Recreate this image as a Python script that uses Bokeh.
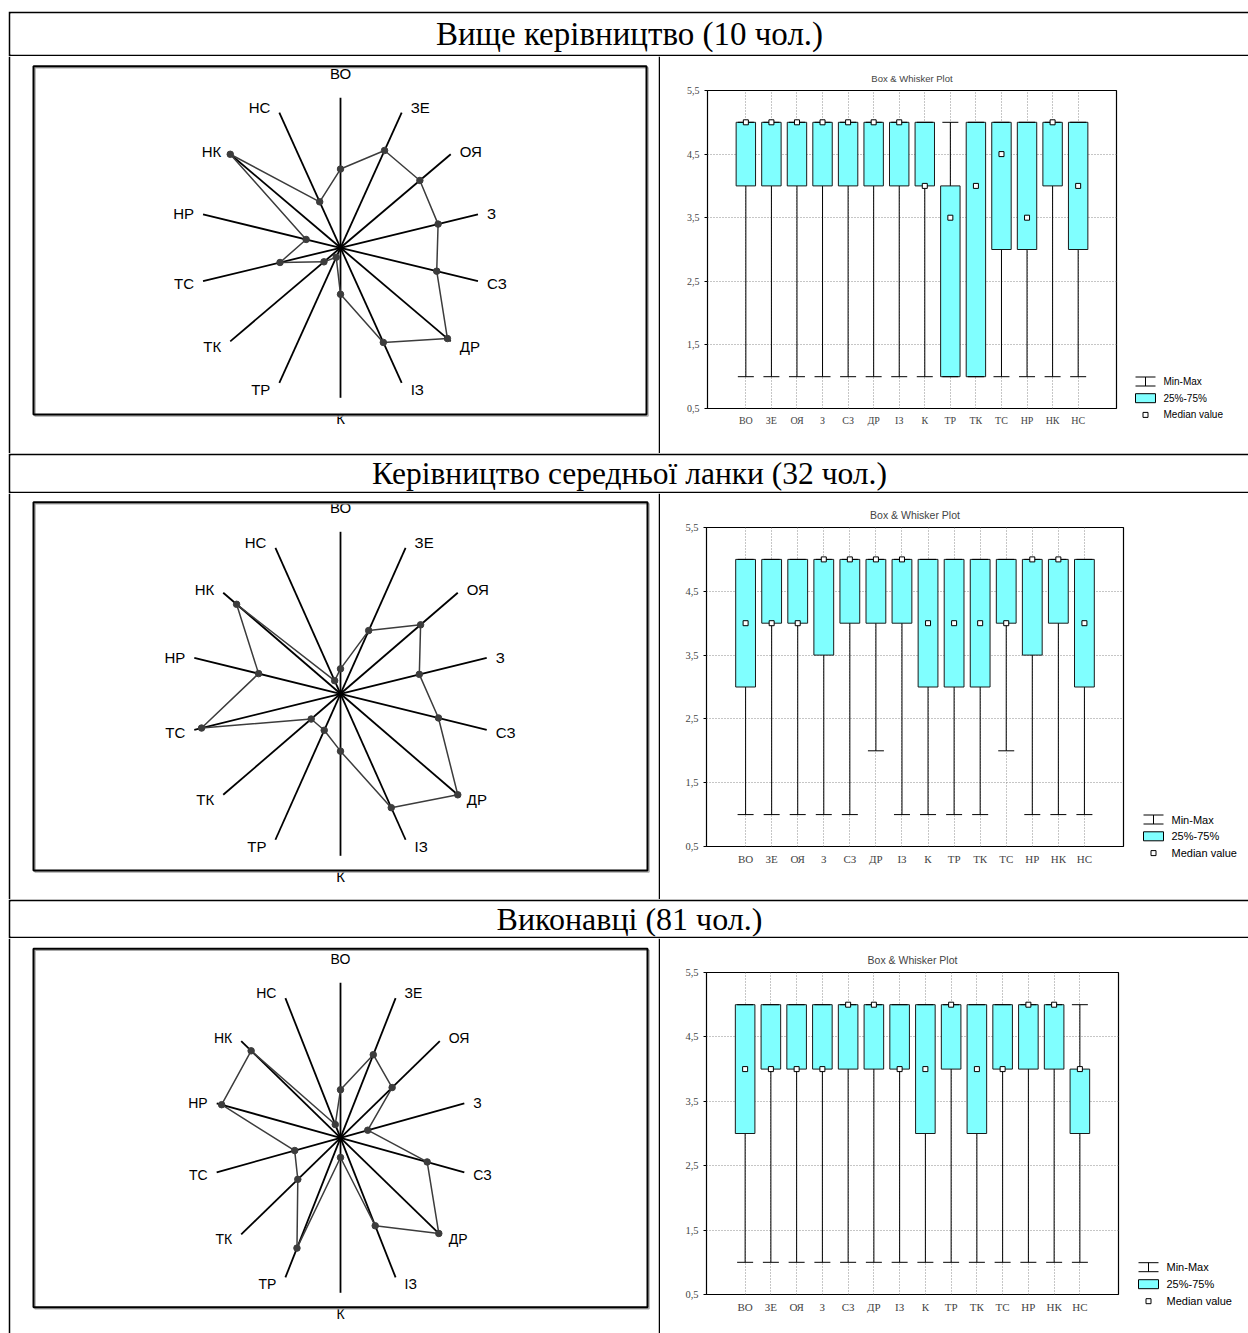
import math
from bokeh.plotting import figure
from bokeh.layouts import column, row
from bokeh.models import (Range1d, FactorRange, FixedTicker, Spacer,
                          CustomJSTickFormatter, ColumnDataSource, Label)
from bokeh.core.properties import value
from bokeh.embed import file_html
from bokeh.resources import INLINE

# ---------------- data ----------------
categories = ["ВО", "ЗЕ", "ОЯ", "З", "СЗ", "ДР", "ІЗ", "К", "ТР", "ТК", "ТС", "НР", "НК", "НС"]
group_titles = ["Вище керівництво (10 чол.)",
                "Керівництво середньої ланки (32 чол.)",
                "Виконавці (81 чол.)"]
box_title = "Box & Whisker Plot"
legend_labels = ["Min-Max", "25%-75%", "Median value"]
y_ticks = [0.5, 1.5, 2.5, 3.5, 4.5, 5.5]

# radar profiles (share of axis length)
radar_top = [0.525, 0.72, 0.72, 0.71, 0.70, 0.97, 0.70, 0.31, 0.07, 0.15, 0.44, 0.25, 1.00, 0.34]
radar_middle = [0.154, 0.433, 0.683, 0.539, 0.67, 1.00, 0.78, 0.354, 0.25, 0.25, 0.95, 0.56, 0.886, 0.09]
radar_staff = [0.31, 0.595, 0.52, 0.22, 0.70, 0.99, 0.63, 0.127, 0.79, 0.43, 0.37, 0.96, 0.90, 0.095]

# box plots: min, q1, median, q3, max
top_min = [1, 1, 1, 1, 1, 1, 1, 1, 1, 1, 1, 1, 1, 1]
top_q1 = [4, 4, 4, 4, 4, 4, 4, 4, 1, 1, 3, 3, 4, 3]
top_med = [5, 5, 5, 5, 5, 5, 5, 4, 3.5, 4, 4.5, 3.5, 5, 4]
top_q3 = [5, 5, 5, 5, 5, 5, 5, 5, 4, 5, 5, 5, 5, 5]
top_max = [5, 5, 5, 5, 5, 5, 5, 5, 5, 5, 5, 5, 5, 5]

mid_min = [1, 1, 1, 1, 1, 2, 1, 1, 1, 1, 2, 1, 1, 1]
mid_q1 = [3, 4, 4, 3.5, 4, 4, 4, 3, 3, 3, 4, 3.5, 4, 3]
mid_med = [4, 4, 4, 5, 5, 5, 5, 4, 4, 4, 4, 5, 5, 4]
mid_q3 = [5, 5, 5, 5, 5, 5, 5, 5, 5, 5, 5, 5, 5, 5]
mid_max = [5, 5, 5, 5, 5, 5, 5, 5, 5, 5, 5, 5, 5, 5]

staff_min = [1, 1, 1, 1, 1, 1, 1, 1, 1, 1, 1, 1, 1, 1]
staff_q1 = [3, 4, 4, 4, 4, 4, 4, 3, 4, 3, 4, 4, 4, 3]
staff_med = [4, 4, 4, 4, 5, 5, 4, 4, 5, 4, 4, 5, 5, 4]
staff_q3 = [5, 5, 5, 5, 5, 5, 5, 5, 5, 5, 5, 5, 5, 4]
staff_max = [5, 5, 5, 5, 5, 5, 5, 5, 5, 5, 5, 5, 5, 5]

# ---------------- layout / style ----------------
SANS = "Liberation Sans"
SERIF = "Liberation Serif"
LEFT_PAD = 8
TOP_PAD = 11
TOTAL_W = 1240
RADAR_W = 648
CX = 330
BOX_FILL = "#80FFFF"
POLY = "#3c3c3c"

panels = [
    dict(title_h=41, title_fs="33px", radar_vals=radar_top, stats=(top_min, top_q1, top_med, top_q3, top_max),
         H=397, cy=191.3, rx=141, ry=150, rect=(23, 636, 9.7, 358), rfs="15px",
         bw=464, mbl=47, mbt=34, mbb=45, tfs="9.5px", xfs="10px", yfs="10px", lfs="10px",
         ly=325, ldy=16.7, lx=11),
    dict(title_h=36, title_fs="31.5px", radar_vals=radar_middle, stats=(mid_min, mid_q1, mid_med, mid_q3, mid_max),
         H=406, cy=200.3, rx=150, ry=162, rect=(23, 637, 8.7, 377), rfs="15px",
         bw=471, mbl=46, mbt=34, mbb=53, tfs="10.5px", xfs="11px", yfs="10.5px", lfs="11px",
         ly=326, ldy=16.8, lx=12),
    dict(title_h=35, title_fs="32px", radar_vals=radar_staff, stats=(staff_min, staff_q1, staff_med, staff_q3, staff_max),
         H=395, cy=199.3, rx=127, ry=155, rect=(23, 637, 10.3, 368.7), rfs="14px",
         bw=466, mbl=46, mbt=34, mbb=39, tfs="10.5px", xfs="11px", yfs="10.5px", lfs="11px",
         ly=328.7, ldy=17.0, lx=12),
]


def base_fig(**kw):
    p = figure(toolbar_location=None, output_backend="svg", **kw)
    p.frame_align = False
    return p


def title_panel(text, h, fs):
    p = base_fig(width=TOTAL_W, height=h + 4, x_range=Range1d(0, TOTAL_W - 2), y_range=Range1d(0, h),
                 min_border_left=2, min_border_right=0, min_border_top=2, min_border_bottom=2,
                 border_fill_color="black", background_fill_color="white",
                 x_axis_type=None, y_axis_type=None, title=None, outline_line_color=None)
    p.add_layout(Label(x=619, y=h / 2, text=text, text_align="center", text_baseline="middle",
                       text_font=SERIF, text_font_size=fs, text_color="black"))
    return p


def radar_panel(cfg):
    H, cy, rx, ry = cfg["H"], cfg["cy"], cfg["rx"], cfg["ry"]
    vals = cfg["radar_vals"]
    p = base_fig(width=RADAR_W + 4, height=H,
                 x_range=Range1d(-CX / rx, (RADAR_W - CX) / rx),
                 y_range=Range1d(-(H - cy) / ry, cy / ry),
                 min_border_left=2, min_border_right=2, min_border_top=0, min_border_bottom=0,
                 border_fill_color="black", background_fill_color="white",
                 x_axis_type=None, y_axis_type=None, title=None, outline_line_color=None)
    n = len(categories)
    ang = [math.pi / 2 - 2 * math.pi * i / n for i in range(n)]
    cs = [math.cos(a) for a in ang]
    sn = [math.sin(a) for a in ang]
    # spokes
    p.segment(x0=[0] * n, y0=[0] * n, x1=cs, y1=sn, line_color="black", line_width=1.8)
    # profile
    xs = [v * c for v, c in zip(vals, cs)]
    ys = [v * s for v, s in zip(vals, sn)]
    p.patch(xs, ys, fill_color=None, line_color=POLY, line_width=1.5)
    p.scatter(xs, ys, marker="circle", size=6.5, fill_color=POLY, line_color=POLY)
    # spoke labels
    groups = {"left": ([], [], [], [], []), "right": ([], [], [], [], []), "center": ([], [], [], [], [])}
    for lab, c, s in zip(categories, cs, sn):
        if c > 0.05:
            key, xo = "left", 9
        elif c < -0.05:
            key, xo = "right", -9
        else:
            key, xo = "center", 0
        if abs(c) <= 0.05:
            yo = -24 if s > 0 else 21
        else:
            yo = -6.5 * s + 0.8
        g = groups[key]
        g[0].append(c); g[1].append(s); g[2].append(lab); g[3].append(xo); g[4].append(yo)
    for key, g in groups.items():
        if not g[0]:
            continue
        src = ColumnDataSource(dict(x=g[0], y=g[1], t=g[2], xo=g[3], yo=g[4]))
        p.text(x="x", y="y", text="t", x_offset="xo", y_offset="yo", source=src,
               text_align=key, text_baseline="middle", text_font=value(SANS),
               text_font_size=cfg["rfs"], text_color="black")
    # inner frame with a light shadow
    l, r, t, b = cfg["rect"]
    sh = 1.5
    p.quad(left=[(l + sh - CX) / rx], right=[(r + sh - CX) / rx], top=[(cy - t - sh) / ry],
           bottom=[(cy - b - sh) / ry], fill_color=None, line_color="#a8a8a8", line_width=1.5)
    p.quad(left=[(l - CX) / rx], right=[(r - CX) / rx], top=[(cy - t) / ry], bottom=[(cy - b) / ry],
           fill_color=None, line_color="black", line_width=2)
    return p


def box_panel(cfg):
    mn, q1, med, q3, mx = cfg["stats"]
    H = cfg["H"]
    p = base_fig(width=cfg["bw"], height=H,
                 x_range=FactorRange(factors=categories, range_padding=1, range_padding_units="absolute"),
                 y_range=Range1d(0.5, 5.5),
                 min_border_left=cfg["mbl"], min_border_right=8, min_border_top=cfg["mbt"],
                 min_border_bottom=cfg["mbb"], title=box_title,
                 background_fill_color="white", border_fill_color="white")
    p.title.align = "center"
    p.title.text_font = SANS
    p.title.text_font_style = "normal"
    p.title.text_font_size = cfg["tfs"]
    p.title.standoff = 14
    p.title.offset = -8
    src = ColumnDataSource(dict(cat=categories, mn=mn, q1=q1, med=med, q3=q3, mx=mx))
    p.segment(x0="cat", y0="mn", x1="cat", y1="mx", source=src, line_color="black", line_width=1)
    p.vbar(x="cat", bottom="q1", top="q3", width=0.76, source=src,
           fill_color=BOX_FILL, line_color="#1a1a1a", line_width=1)
    p.scatter(x="cat", y="mn", marker="dash", size=16, source=src, line_color="black", line_width=1)
    p.scatter(x="cat", y="mx", marker="dash", size=16, source=src, line_color="black", line_width=1)
    p.scatter(x="cat", y="med", marker="square", size=5, source=src,
              fill_color="white", line_color="black", line_width=1)
    # axes
    p.xaxis.major_label_text_font = SERIF
    p.xaxis.major_label_text_font_size = cfg["xfs"]
    p.xaxis.major_tick_line_color = None
    p.xaxis.major_tick_out = 0
    p.xaxis.major_tick_in = 0
    p.xaxis.axis_line_color = None
    p.xaxis.major_label_standoff = 6
    p.yaxis.ticker = FixedTicker(ticks=y_ticks)
    p.yaxis.formatter = CustomJSTickFormatter(code="return tick.toFixed(1).replace('.', ',')")
    p.yaxis.major_label_text_font = SERIF
    p.yaxis.major_label_text_font_size = cfg["yfs"]
    p.yaxis.axis_line_color = None
    p.yaxis.major_tick_out = 3
    p.yaxis.major_tick_in = 0
    p.yaxis.minor_tick_line_color = None
    p.yaxis.major_label_standoff = 5
    # grid
    p.ygrid.ticker = FixedTicker(ticks=y_ticks)
    for g in (p.xgrid, p.ygrid):
        g.grid_line_color = "#8c8c8c"
        g.grid_line_dash = "1 2"
        g.grid_line_width = 1
    p.outline_line_color = "black"
    p.outline_line_width = 1.2
    return p


def legend_panel(cfg):
    H = cfg["H"]
    W = TOTAL_W - RADAR_W - 4 - cfg["bw"]
    p = base_fig(width=W, height=H, x_range=Range1d(0, W), y_range=Range1d(H, 0),
                 min_border=0, x_axis_type=None, y_axis_type=None, title=None,
                 outline_line_color=None, background_fill_color="white", border_fill_color="white")
    x0, y0, dy = cfg["lx"], cfg["ly"], cfg["ldy"]
    sw = 20
    p.segment(x0=[x0, x0, x0 + sw / 2], y0=[y0 - 4.5, y0 + 4.5, y0 - 4.5],
              x1=[x0 + sw, x0 + sw, x0 + sw / 2], y1=[y0 - 4.5, y0 + 4.5, y0 + 4.5],
              line_color="black", line_width=1)
    p.quad(left=[x0], right=[x0 + sw], top=[y0 + dy - 4.5], bottom=[y0 + dy + 4.5],
           fill_color=BOX_FILL, line_color="black", line_width=1)
    p.scatter(x=[x0 + sw / 2], y=[y0 + 2 * dy], marker="square", size=5,
              fill_color="white", line_color="black", line_width=1)
    p.text(x=[x0 + 28] * 3, y=[y0, y0 + dy, y0 + 2 * dy], text=legend_labels,
           text_baseline="middle", text_align="left", text_font=value(SANS),
           text_font_size=cfg["lfs"], text_color="black")
    return p


items = [Spacer(width=TOTAL_W, height=TOP_PAD)]
for ttl, cfg in zip(group_titles, panels):
    items.append(title_panel(ttl, cfg["title_h"], cfg["title_fs"]))
    items.append(row(radar_panel(cfg), box_panel(cfg), legend_panel(cfg), spacing=0))

page = row(Spacer(width=LEFT_PAD, height=10), column(*items, spacing=0), spacing=0)

open("out.html", "w").write(file_html(page, INLINE))
